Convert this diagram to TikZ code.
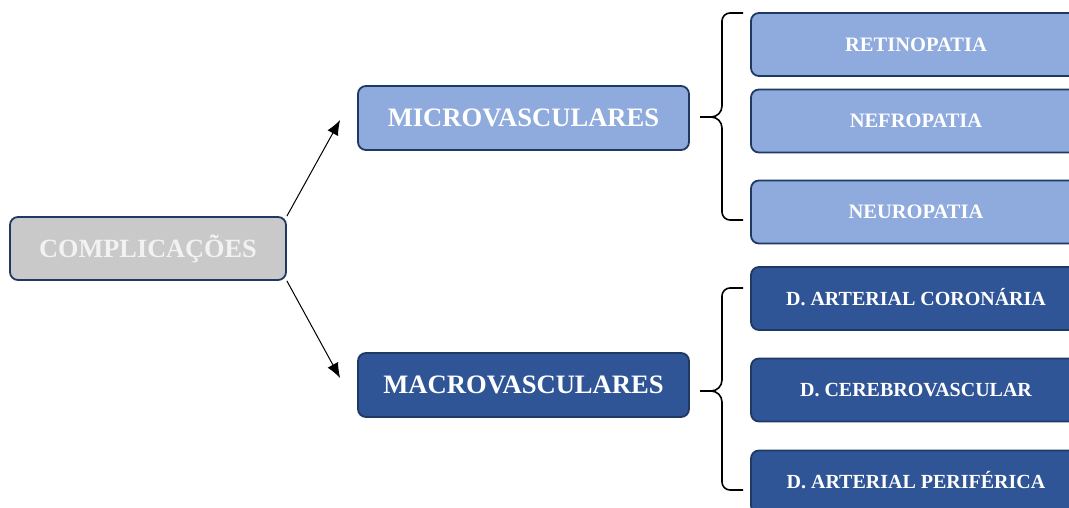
\documentclass[tikz,border=0pt]{standalone}
\usepackage{fontspec}
\setmainfont{Liberation Serif}
\usetikzlibrary{arrows.meta,calc}
\definecolor{navyline}{HTML}{1F3864}
\definecolor{lightblue}{HTML}{8FAADC}
\definecolor{darkblue}{HTML}{2F5597}
\definecolor{greybox}{HTML}{C9C9C9}
\definecolor{paletext}{HTML}{F2F2F2}
\tikzstyle{box}=[rectangle,rounded corners=8pt,draw=navyline,line width=1.8pt,text=white,inner sep=0pt,text depth=0pt]
\tikzstyle{rootbox}=[box,fill=greybox,text=paletext,minimum width=276pt,minimum height=63pt,text height=17.5pt,font=\fontsize{26.3}{31}\selectfont\bfseries]
\tikzstyle{groupbox}=[box,minimum width=331pt,minimum height=64pt,text height=17.5pt,font=\fontsize{26.6}{31}\selectfont\bfseries]
\tikzstyle{leafbox}=[box,minimum width=330pt,minimum height=63pt,text height=13.5pt]
\tikzstyle{brace}=[line width=1.6pt,black]
\tikzstyle{arrow}=[line width=1pt,-{Latex[length=15pt,width=12pt]}]

\begin{document}
\begin{tikzpicture}[x=1pt,y=-1pt]
    \useasboundingbox (0,0) rectangle (1069,508);
    \clip (0,0) rectangle (1069,508);

    \node[rootbox] (comp) at (148,248.5) {COMPLICAÇÕES};
    \node[groupbox, fill=lightblue] (micro) at (523.5,118) {MICROVASCULARES};
    \node[groupbox, fill=darkblue] (macro) at (523.5,385) {MACROVASCULARES};

    \foreach \pos/\name/\txt in {{(916,44.5)/retino/RETINOPATIA}, {(916,121)/nefro/NEFROPATIA}, {(916,212)/neuro/NEUROPATIA}}
        \node[leafbox, fill=lightblue, font=\fontsize{20.5}{24}\selectfont\bfseries] (\name) at \pos {\txt};
    \foreach \pos/\name/\txt in {{(916,298.5)/coron/D. ARTERIAL CORONÁRIA}, {(916,390)/cereb/D. CEREBROVASCULAR}, {(916,482)/perif/D. ARTERIAL PERIFÉRICA}}
        \node[leafbox, fill=darkblue, font=\fontsize{20}{24}\selectfont\bfseries] (\name) at \pos {\txt};

    \coordinate (microin) at ([xshift=-17pt,yshift=-2pt]micro.west);
    \coordinate (macroin) at ([xshift=-17pt,yshift=7pt]macro.west);
    \draw[arrow] (comp.north east) to (microin);
    \draw[arrow] (comp.south east) to (macroin);

    % braces
    \foreach \top/\tip/\bot in {13/117/220, 288/391/490}
        \draw[brace] (743,\top) -- (730,\top) to[out=180,in=90] (722,\top+8) -- (722,\tip-11)
            to[out=-90,in=0] (711,\tip) -- (700,\tip) -- (711,\tip) to[out=0,in=90] (722,\tip+11)
            -- (722,\bot-8) to[out=-90,in=180] (730,\bot) -- (743,\bot);

\end{tikzpicture}
\end{document}
